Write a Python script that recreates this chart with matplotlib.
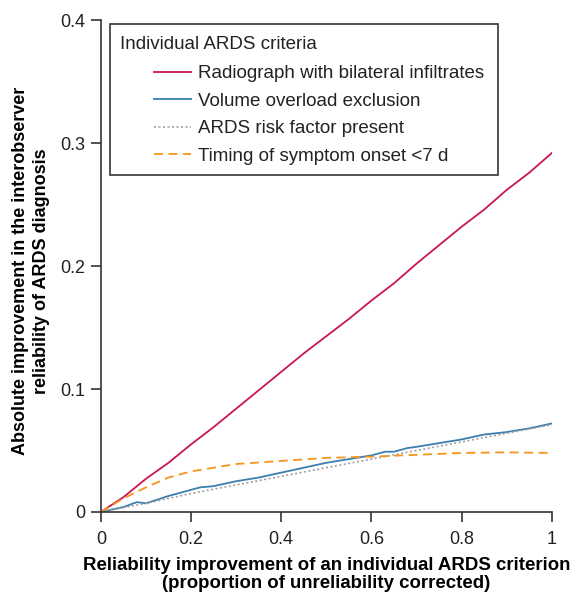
import matplotlib
matplotlib.use("Agg")
import matplotlib.pyplot as plt
from matplotlib.patches import Rectangle

plt.rcParams['font.family'] = ['Liberation Sans', 'DejaVu Sans']

red_x = [0, 0.05, 0.1, 0.15, 0.2, 0.25, 0.3, 0.35, 0.4, 0.45, 0.5, 0.55, 0.6, 0.65, 0.7, 0.75, 0.8, 0.85, 0.9, 0.95, 1.0]
red_y = [0, 0.012, 0.027, 0.040, 0.055, 0.069, 0.084, 0.099, 0.114, 0.129, 0.143, 0.157, 0.172, 0.186, 0.202, 0.217, 0.232, 0.246, 0.262, 0.276, 0.292]

blue_x = [0, 0.05, 0.08, 0.1, 0.15, 0.2, 0.22, 0.25, 0.3, 0.35, 0.4, 0.45, 0.5, 0.55, 0.6, 0.63, 0.65, 0.68, 0.7, 0.75, 0.8, 0.85, 0.9, 0.95, 1.0]
blue_y = [0, 0.004, 0.008, 0.007, 0.013, 0.018, 0.020, 0.021, 0.025, 0.028, 0.032, 0.036, 0.040, 0.043, 0.046, 0.049, 0.049, 0.052, 0.053, 0.056, 0.059, 0.063, 0.065, 0.068, 0.072]

gray_x = [0, 0.1, 0.2, 0.3, 0.4, 0.5, 0.6, 0.7, 0.8, 0.9, 1.0]
gray_y = [0, 0.007, 0.015, 0.022, 0.029, 0.036, 0.043, 0.050, 0.057, 0.064, 0.071]

orange_x = [0, 0.05, 0.1, 0.15, 0.2, 0.25, 0.3, 0.4, 0.5, 0.6, 0.7, 0.8, 0.9, 1.0]
orange_y = [0, 0.011, 0.020, 0.028, 0.033, 0.036, 0.039, 0.0415, 0.044, 0.045, 0.0465, 0.048, 0.0485, 0.048]

labels = ["Radiograph with bilateral infiltrates", "Volume overload exclusion",
          "ARDS risk factor present", "Timing of symptom onset <7 d"]
x_ticks = [0, 0.2, 0.4, 0.6, 0.8, 1.0]
x_ticklabels = ["0", "0.2", "0.4", "0.6", "0.8", "1"]
y_ticks = [0, 0.1, 0.2, 0.3, 0.4]
y_ticklabels = ["0", "0.1", "0.2", "0.3", "0.4"]

fig = plt.figure(figsize=(5.73, 5.96), dpi=100)
ax = fig.add_axes([0.176, 0.141, 0.787, 0.825])

ax.plot(red_x, red_y, color='#c8174f', lw=1.3, label=labels[0])
ax.plot(blue_x, blue_y, color='#3a7fb0', lw=1.3, label=labels[1])
ax.plot(gray_x, gray_y, color='#a0a0a0', lw=1.2, ls=(0, (1.2, 1.5)), label=labels[2])
ax.plot(orange_x, orange_y, color='#f7941d', lw=1.3, ls=(0, (5, 3)), label=labels[3])

ax.set_xlim(0, 1)
ax.set_ylim(0, 0.4)
ax.set_xticks(x_ticks)
ax.set_xticklabels(x_ticklabels)
ax.set_yticks(y_ticks)
ax.set_yticklabels(y_ticklabels)
for s in ['top', 'right']:
    ax.spines[s].set_visible(False)
for s in ['left', 'bottom']:
    ax.spines[s].set_color('#333333')
    ax.spines[s].set_linewidth(1.2)
ax.tick_params(direction='out', length=7, width=1.2, color='#333333', labelsize=13,
               labelcolor='#222222')
ax.tick_params(axis='x', pad=7)
ax.tick_params(axis='y', pad=4)

ax.set_xlabel("Reliability improvement of an individual ARDS criterion\n(proportion of unreliability corrected)",
              fontsize=13.4, fontweight='bold', labelpad=6, linespacing=1.1)
ax.set_ylabel("Absolute improvement in the interobserver\nreliability of ARDS diagnosis",
              fontsize=13.0, fontweight='bold', linespacing=1.3)
ax.yaxis.set_label_coords(-0.113, 0.49)

# legend box
ax.add_patch(Rectangle((0.02, 0.685), 0.86, 0.307, transform=ax.transAxes,
                       fill=False, edgecolor='#333333', lw=1.2, zorder=5))
ax.text(0.042, 0.951, "Individual ARDS criteria", transform=ax.transAxes,
        fontsize=13.5, va='center', ha='left', color='#222222')
leg = ax.legend(loc='upper left', bbox_to_anchor=(0.118, 0.909), frameon=False,
                fontsize=13.5, handlelength=1.97, handletextpad=0.37, labelspacing=0.56,
                borderaxespad=0, borderpad=0)
for t in leg.get_texts():
    t.set_color('#222222')

fig.savefig("out.png", dpi=100)
